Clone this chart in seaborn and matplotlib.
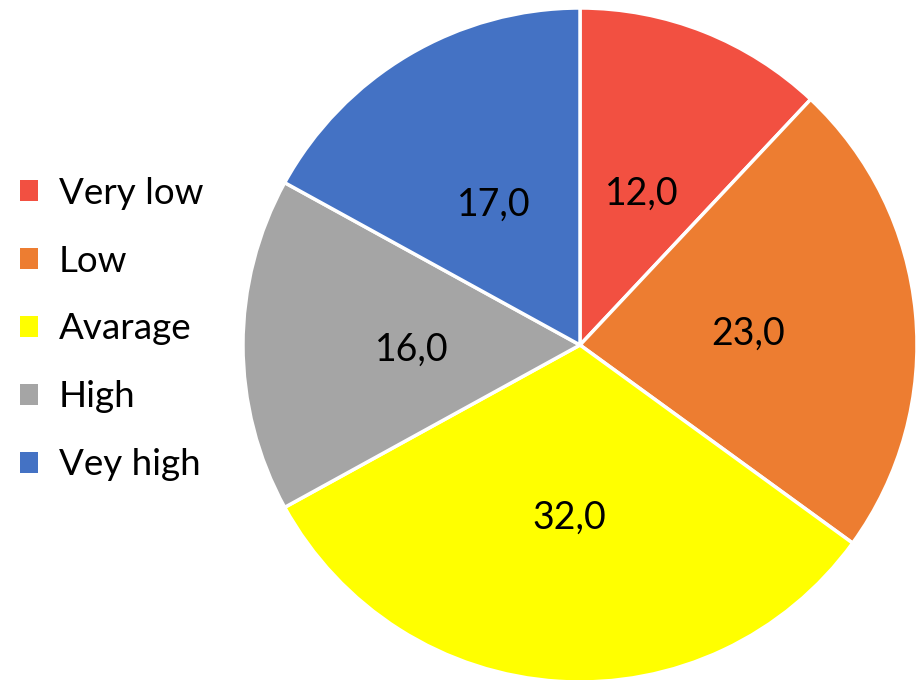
import matplotlib
matplotlib.use("Agg")
import matplotlib.pyplot as plt
from matplotlib.patches import Patch
import seaborn as sns

categories = ["Very low", "Low", "Avarage", "High", "Vey high"]
values = [12.0, 23.0, 32.0, 16.0, 17.0]
colors = ["#F25041", "#ED7D31", "#FFFF00", "#A5A5A5", "#4472C4"]

sns.set_theme(style="white")
plt.rcParams["font.family"] = ["Lato", "DejaVu Sans"]
plt.rcParams["text.color"] = "black"

W, H = 917, 680
fig = plt.figure(figsize=(W / 100, H / 100), dpi=100)
fig.patch.set_facecolor("white")

cx, cy, r = 580, 345, 337
ax = fig.add_axes([(cx - r) / W, (H - cy - r) / H, 2 * r / W, 2 * r / H])

total = sum(values)


def fmt(pct):
    return f"{pct * total / 100:.1f}".replace(".", ",")


wedges, texts, autotexts = ax.pie(
    values,
    colors=colors,
    startangle=90,
    counterclock=False,
    autopct=fmt,
    pctdistance=0.5,
    wedgeprops=dict(edgecolor="white", linewidth=2.5),
    textprops=dict(fontsize=27, color="black"),
)
for t in autotexts:
    x, y = t.get_position()
    t.set_position((x, y - 0.015))
ax.set_xlim(-1, 1)
ax.set_ylim(-1, 1)
ax.set_aspect("equal")
ax.axis("off")

handles = [Patch(facecolor=c, edgecolor="none") for c in colors]
leg = fig.legend(
    handles,
    categories,
    loc="center left",
    bbox_to_anchor=(20 / W, (H - 329) / H),
    frameon=False,
    fontsize=26.5,
    handlelength=0.5,
    handleheight=0.5,
    handletextpad=0.55,
    labelspacing=0.95,
    borderpad=0,
    borderaxespad=0,
)
for t in leg.get_texts():
    t.set_color("black")

fig.savefig("out.png", dpi=100, facecolor="white")
